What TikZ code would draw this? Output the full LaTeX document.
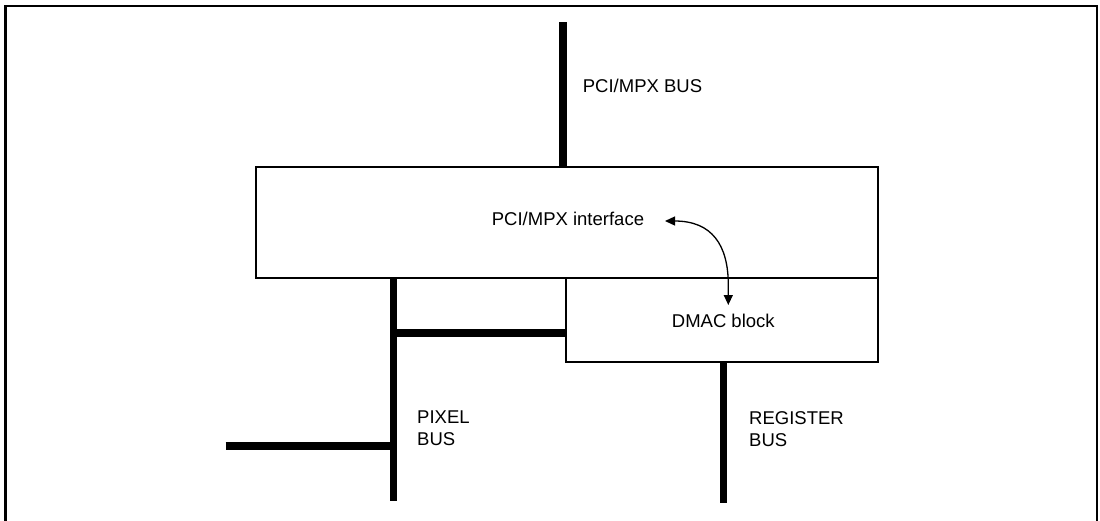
\documentclass[tikz,border=0pt]{standalone}
\usepackage{fontspec}
\setmainfont{Liberation Sans}
\usetikzlibrary{arrows.meta}
\begin{document}
\begin{tikzpicture}[x=1pt,y=-1pt,
  box/.style={draw,line width=1.8pt,inner sep=0pt,outer sep=0pt,anchor=north west},
  bus/.style={line width=7.5pt},
  frame/.style={line width=2.3pt},
  lbl/.style={font=\fontsize{18.5}{22}\selectfont,inner sep=0pt,anchor=base west},
  dbl/.style={line width=1.3pt,{Triangle[length=10pt,width=9pt]}-{Triangle[length=10pt,width=9pt]}}]
\useasboundingbox (0,0) rectangle (1100,520);
% outer frame (bottom edge lies below the picture)
\draw[frame] (5.5,525) -- (5.5,6) -- (1097,6) -- (1097,525);
% blocks
\node[box,minimum width=621.7pt,minimum height=111.3pt] (iface) at (256,167) {};
\node[box,minimum width=312pt,minimum height=83.4pt] (dmac) at (565.7,278.3) {};
% bus end points
\coordinate (pcitop) at (562.8,22.3);
\coordinate (pixbot) at (393.7,501);
\coordinate (pixjoin) at (393.7,333);
\coordinate (pixleft) at (225.7,446);
\coordinate (regbot) at (723.7,503);
% buses
\draw[bus] (pcitop) -- (pcitop |- iface.north);
\draw[bus] (pixbot |- iface.south) -- (pixbot);
\draw[bus] (pixjoin) -- (pixjoin -| dmac.west);
\draw[bus] (pixleft) -- (pixleft -| pixbot);
\draw[bus] (regbot |- dmac.south) -- (regbot);
% labels
\node[lbl] (pcibus) at (582.7,92.7) {PCI/MPX BUS};
\node[lbl] (ifacelbl) at (491.7,225.7) {PCI/MPX interface};
\node[lbl] (dmaclbl) at (671.7,327.7) {DMAC block};
\node[lbl] (pix1) at (417,423.3) {PIXEL};
\node[lbl] (pix2) at (417,445.3) {BUS};
\node[lbl] (reg1) at (749,424) {REGISTER};
\node[lbl] (reg2) at (749,446) {BUS};
% double-headed arrow
\coordinate (a1) at (665,221);
\coordinate (a2) at (728.3,305);
\draw[dbl] (a1) .. controls (712,221) and (728.3,245) .. (728.3,285) -- (a2);
\end{tikzpicture}
\end{document}
